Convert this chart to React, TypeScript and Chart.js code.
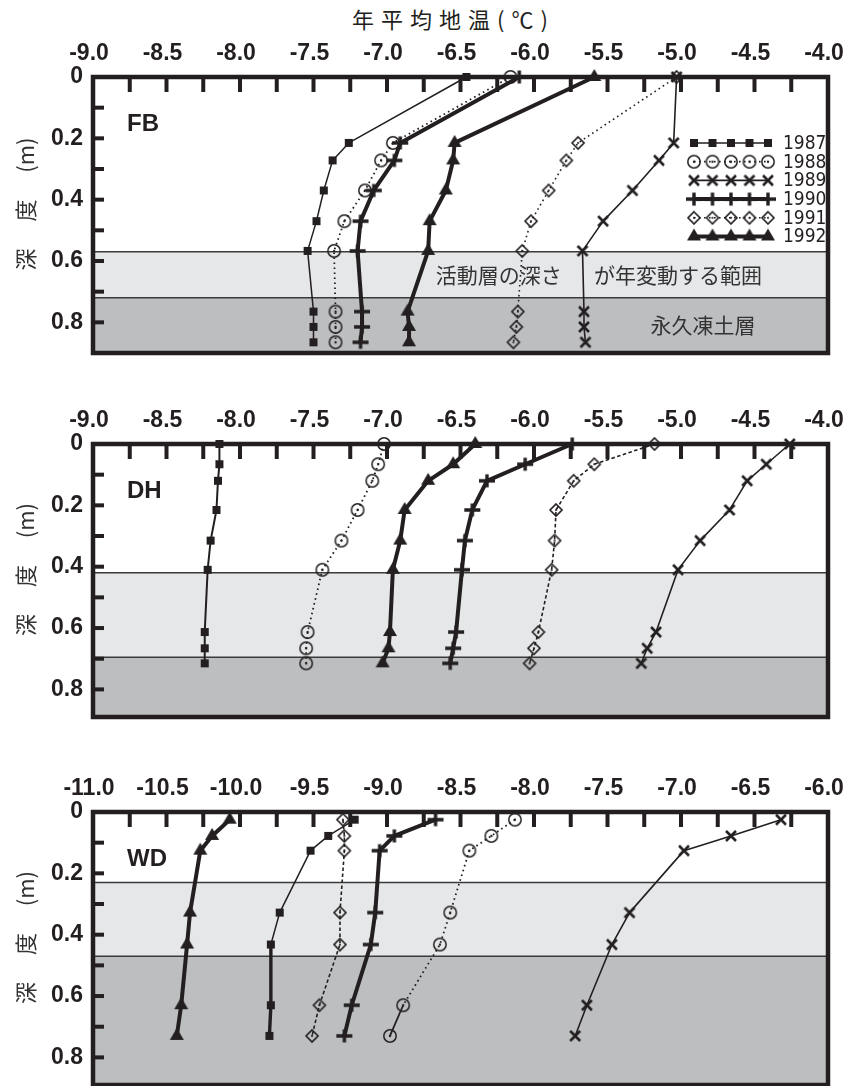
import React, { useEffect, useRef } from 'react';
import { Chart, registerables } from 'chart.js';

Chart.register(...registerables);

const INK = '#231f20';
const LIGHT_LAYER = '#e6e7e8';
const DARK_LAYER = '#bcbec0';
const LAYER_EDGE = '#3b3b3b';

const years = ['1987', '1988', '1989', '1990', '1991', '1992'];

// ---- FB: depth (m) and annual mean ground temperature (°C) ----
const fbDepth = [0, 0.215, 0.272, 0.37, 0.47, 0.567, 0.765, 0.815, 0.865];
const fb1987 = [-6.46, -7.26, -7.37, -7.43, -7.48, -7.54, -7.5, -7.5, -7.5];
const fb1988 = [-6.16, -6.96, -7.04, -7.15, -7.29, -7.36, -7.35, -7.35, -7.35];
const fb1989 = [-5.03, -5.05, -5.15, -5.33, -5.53, -5.67, -5.66, -5.66, -5.65];
const fb1990 = [-6.1, -6.91, -6.95, -7.09, -7.18, -7.2, -7.17, -7.17, -7.18];
const fb1991 = [-5.03, -5.7, -5.78, -5.9, -6.02, -6.08, -6.11, -6.12, -6.14];
const fb1992 = [-5.59, -6.54, -6.55, -6.6, -6.71, -6.72, -6.86, -6.85, -6.85];
const fbLayerTops = [0.57, 0.72]; // top of active-layer range, top of permafrost

// ---- DH ----
const dhDepth = [0, 0.066, 0.12, 0.215, 0.315, 0.41, 0.613, 0.666, 0.715];
const dh1987 = [-8.14, -8.14, -8.15, -8.16, -8.2, -8.22, -8.24, -8.24, -8.24];
const dh1988 = [-7.02, -7.06, -7.1, -7.2, -7.31, -7.44, -7.54, -7.55, -7.55];
const dh1989 = [-4.26, -4.42, -4.55, -4.67, -4.87, -5.02, -5.17, -5.23, -5.27];
const dh1990 = [-5.74, -6.06, -6.32, -6.42, -6.47, -6.49, -6.53, -6.55, -6.57];
const dh1991 = [-5.18, -5.59, -5.73, -5.85, -5.86, -5.88, -5.97, -6.0, -6.03];
const dh1992 = [-6.4, -6.55, -6.72, -6.88, -6.91, -6.96, -6.98, -6.99, -7.03];
const dhLayerTops = [0.42, 0.695];

// ---- WD ----
const wdDepth = [0.025, 0.078, 0.126, 0.328, 0.432, 0.63, 0.73];
const wd1987 = [-9.22, -9.4, -9.52, -9.73, -9.79, -9.79, -9.8];
const wd1988 = [-8.13, -8.29, -8.44, -8.57, -8.64, -8.89, -8.98];
const wd1989 = [-6.32, -6.66, -6.98, -7.35, -7.47, -7.64, -7.72];
const wd1990 = [-8.67, -8.95, -9.05, -9.08, -9.11, -9.24, -9.29];
const wd1991 = [-9.3, -9.29, -9.29, -9.32, -9.32, -9.46, -9.51];
const wd1992 = [-10.07, -10.19, -10.27, -10.34, -10.36, -10.4, -10.43];
const wdLayerTops = [0.23, 0.47];

// ---- axis ticks ----
const tempTicksFB = [-9.0, -8.5, -8.0, -7.5, -7.0, -6.5, -6.0, -5.5, -5.0, -4.5, -4.0];
const tempTicksWD = [-11.0, -10.5, -10.0, -9.5, -9.0, -8.5, -8.0, -7.5, -7.0, -6.5, -6.0];
const depthTicks = [0, 0.2, 0.4, 0.6, 0.8];

const fbNotes = [
  { text: '活動層の深さ', x: -6.24, y: 0.645 },
  { text: 'が年変動する範囲', x: -5.02, y: 0.645 },
  { text: '永久凍土層', x: -4.85, y: 0.81 },
];

type MarkerKind = 'square' | 'circleDot' | 'cross' | 'plus' | 'diamondDot' | 'triangle';

const seriesStyles: { marker: MarkerKind; width: number; dash: number[] }[] = [
  { marker: 'square', width: 1.5, dash: [] },
  { marker: 'circleDot', width: 1.8, dash: [1.6, 3.4] },
  { marker: 'cross', width: 1.6, dash: [] },
  { marker: 'plus', width: 4, dash: [] },
  { marker: 'diamondDot', width: 1.6, dash: [1.6, 3.4] },
  { marker: 'triangle', width: 4, dash: [] },
];

function makeMarker(kind: MarkerKind): HTMLCanvasElement {
  const c = document.createElement('canvas');
  const s = 18;
  c.width = s;
  c.height = s;
  const g = c.getContext('2d')!;
  const m = s / 2;
  g.strokeStyle = INK;
  g.fillStyle = INK;
  g.lineCap = 'butt';
  switch (kind) {
    case 'square':
      g.fillRect(m - 4, m - 4, 8, 8);
      break;
    case 'circleDot':
      g.lineWidth = 1.5;
      g.beginPath();
      g.arc(m, m, 6.2, 0, Math.PI * 2);
      g.stroke();
      g.beginPath();
      g.arc(m, m, 1.2, 0, Math.PI * 2);
      g.fill();
      break;
    case 'cross':
      g.lineWidth = 2.6;
      g.beginPath();
      g.moveTo(m - 5, m - 5);
      g.lineTo(m + 5, m + 5);
      g.moveTo(m + 5, m - 5);
      g.lineTo(m - 5, m + 5);
      g.stroke();
      break;
    case 'plus':
      g.lineWidth = 3.4;
      g.beginPath();
      g.moveTo(m - 8, m);
      g.lineTo(m + 8, m);
      g.moveTo(m, m - 6.5);
      g.lineTo(m, m + 6.5);
      g.stroke();
      break;
    case 'diamondDot':
      g.lineWidth = 1.6;
      g.beginPath();
      g.moveTo(m, m - 6);
      g.lineTo(m + 6, m);
      g.lineTo(m, m + 6);
      g.lineTo(m - 6, m);
      g.closePath();
      g.stroke();
      g.beginPath();
      g.arc(m, m, 1.1, 0, Math.PI * 2);
      g.fill();
      break;
    case 'triangle':
      g.beginPath();
      g.moveTo(m, m - 8);
      g.lineTo(m + 7, m + 4);
      g.lineTo(m - 7, m + 4);
      g.closePath();
      g.fill();
      break;
  }
  return c;
}

type Note = { text: string; x: number; y: number };

type PanelDef = {
  name: string;
  depth: number[];
  series: number[][];
  xMin: number;
  xMax: number;
  xTicks: number[];
  yMax: number;
  layerTops: number[];
  notes: Note[];
  legend: boolean;
  dash1991: number[];
  canvasTop: number;
  canvasHeight: number;
  padBottom: number;
  segments?: Record<number, any>;
};

const panels: PanelDef[] = [
  {
    name: 'FB',
    depth: fbDepth,
    series: [fb1987, fb1988, fb1989, fb1990, fb1991, fb1992],
    xMin: -9,
    xMax: -4,
    xTicks: tempTicksFB,
    yMax: 0.9,
    layerTops: fbLayerTops,
    notes: fbNotes,
    legend: true,
    dash1991: [1.6, 3.4],
    canvasTop: 0,
    canvasHeight: 365,
    padBottom: 12,
  },
  {
    name: 'DH',
    depth: dhDepth,
    series: [dh1987, dh1988, dh1989, dh1990, dh1991, dh1992],
    xMin: -9,
    xMax: -4,
    xTicks: tempTicksFB,
    yMax: 0.89,
    layerTops: dhLayerTops,
    notes: [],
    legend: false,
    dash1991: [3.5, 2.5],
    canvasTop: 367,
    canvasHeight: 365,
    padBottom: 15,
    segments: { 0: { borderWidth: 2 } },
  },
  {
    name: 'WD',
    depth: wdDepth,
    series: [wd1987, wd1988, wd1989, wd1990, wd1991, wd1992],
    xMin: -11,
    xMax: -6,
    xTicks: tempTicksWD,
    yMax: 0.89,
    layerTops: wdLayerTops,
    notes: [],
    legend: false,
    dash1991: [3.5, 2.5],
    canvasTop: 735,
    canvasHeight: 370,
    padBottom: 20,
    segments: {
      // 1987: heavier line below 0.43 m
      0: { borderWidth: (ctx: any) => (ctx.p0DataIndex >= 4 ? 3.4 : undefined) },
      // 1988: deepest segment solid
      1: { borderDash: (ctx: any) => (ctx.p0DataIndex >= 5 ? [] : undefined) },
    },
  },
];

function decorPlugin(p: PanelDef, markers: HTMLCanvasElement[]) {
  return {
    id: 'decor' + p.name,
    beforeDatasetsDraw(chart: any) {
      const { ctx, chartArea: a } = chart;
      const xs = chart.scales.x;
      const ys = chart.scales.y;
      const y1 = ys.getPixelForValue(p.layerTops[0]);
      const y2 = ys.getPixelForValue(p.layerTops[1]);
      ctx.save();
      ctx.fillStyle = LIGHT_LAYER;
      ctx.fillRect(a.left, y1, a.width, y2 - y1);
      ctx.fillStyle = DARK_LAYER;
      ctx.fillRect(a.left, y2, a.width, a.bottom - y2);
      ctx.strokeStyle = LAYER_EDGE;
      ctx.lineWidth = 1.5;
      [y1, y2].forEach((py) => {
        ctx.beginPath();
        ctx.moveTo(a.left, py);
        ctx.lineTo(a.right, py);
        ctx.stroke();
      });
      ctx.font = "21px 'Noto Sans CJK JP', sans-serif";
      ctx.fillStyle = '#333333';
      ctx.textAlign = 'center';
      ctx.textBaseline = 'middle';
      p.notes.forEach((n) => ctx.fillText(n.text, xs.getPixelForValue(n.x), ys.getPixelForValue(n.y)));
      ctx.restore();
    },
    afterDatasetsDraw(chart: any) {
      const { ctx, chartArea: a } = chart;
      const xs = chart.scales.x;
      const ys = chart.scales.y;
      ctx.save();
      ctx.strokeStyle = INK;
      ctx.lineCap = 'butt';
      // inner tick marks: every 0.25 °C along the top, every 0.1 m on the left
      ctx.lineWidth = 4;
      for (let i = 1; i < 20; i++) {
        const px = xs.getPixelForValue(p.xMin + i * 0.25);
        ctx.beginPath();
        ctx.moveTo(px, a.top);
        ctx.lineTo(px, a.top + 15);
        ctx.stroke();
      }
      for (let i = 1; i <= 8; i++) {
        const py = ys.getPixelForValue(i * 0.1);
        ctx.beginPath();
        ctx.moveTo(a.left, py);
        ctx.lineTo(a.left + 11, py);
        ctx.stroke();
      }
      // frame
      ctx.lineWidth = 4.5;
      ctx.strokeRect(a.left, a.top, a.width, a.height);
      // site name
      ctx.fillStyle = INK;
      ctx.font = "bold 24px 'Liberation Sans', Arial, sans-serif";
      ctx.textAlign = 'left';
      ctx.textBaseline = 'middle';
      ctx.fillText(p.name, a.left + 34, a.top + 47);
      // legend: line sample with five markers per year
      if (p.legend) {
        chart.data.datasets.forEach((ds: any, i: number) => {
          const cy = a.top + 66 + i * 18.7;
          const x1 = a.right - 134;
          const x2 = a.right - 60;
          ctx.save();
          ctx.lineWidth = ds.borderWidth;
          ctx.setLineDash(ds.borderDash || []);
          ctx.beginPath();
          ctx.moveTo(x1, cy);
          ctx.lineTo(x2, cy);
          ctx.stroke();
          ctx.restore();
          const mk = markers[i];
          for (let k = 0; k < 5; k++) {
            const mx = x1 + (k * (x2 - x1)) / 4;
            ctx.drawImage(mk, mx - mk.width / 2, cy - mk.height / 2);
          }
          ctx.font = "19px 'Liberation Sans Narrow', 'DejaVu Sans Condensed', sans-serif";
          ctx.textAlign = 'left';
          ctx.fillText(ds.label, a.right - 45, cy + 1);
        });
      }
      ctx.restore();
    },
  };
}

const tickFont = { family: "'Liberation Sans', Arial, sans-serif", size: 23, weight: 'bold' as const };

function Panel({ p }: { p: PanelDef }) {
  const ref = useRef<HTMLCanvasElement>(null);
  useEffect(() => {
    const markers = seriesStyles.map((s) => makeMarker(s.marker));
    const datasets = p.series.map((temps, i) => {
      const st = seriesStyles[i];
      const ds: any = {
        label: years[i],
        data: p.depth.map((d, k) => ({ x: temps[k], y: d })),
        borderColor: INK,
        backgroundColor: INK,
        borderWidth: st.width,
        borderDash: i === 4 ? p.dash1991 : st.dash,
        borderCapStyle: 'butt',
        borderJoinStyle: 'round',
        tension: 0,
        pointStyle: markers[i],
        pointRadius: 6,
        pointHoverRadius: 6,
        clip: false,
      };
      if (p.segments && p.segments[i]) ds.segment = p.segments[i];
      return ds;
    });
    const chart = new Chart(ref.current!, {
      type: 'line',
      data: { datasets },
      options: {
        animation: false,
        responsive: false,
        events: [],
        layout: { padding: { left: 0, right: 20, top: 0, bottom: p.padBottom } },
        plugins: { legend: { display: false }, tooltip: { enabled: false } },
        scales: {
          x: {
            type: 'linear',
            position: 'top',
            min: p.xMin,
            max: p.xMax,
            grid: { display: false, drawTicks: false },
            border: { display: false },
            afterBuildTicks: (s: any) => {
              s.ticks = p.xTicks.map((v) => ({ value: v }));
            },
            afterFit: (s: any) => {
              s.height = 77;
              s.paddingLeft = 0;
              s.paddingRight = 0;
            },
            ticks: {
              autoSkip: false,
              maxRotation: 0,
              padding: 10,
              labelOffset: -4,
              color: INK,
              font: tickFont,
              callback: (v: any) => Number(v).toFixed(1),
            },
          },
          y: {
            type: 'linear',
            position: 'left',
            reverse: true,
            min: 0,
            max: p.yMax,
            grid: { display: false, drawTicks: false },
            border: { display: false },
            afterBuildTicks: (s: any) => {
              s.ticks = depthTicks.map((v) => ({ value: v }));
            },
            afterFit: (s: any) => {
              s.width = 93;
              s.paddingTop = 0;
              s.paddingBottom = 0;
            },
            ticks: {
              padding: 10,
              color: INK,
              font: tickFont,
              callback: (v: any) => (Number(v) === 0 ? '0' : Number(v).toFixed(1)),
            },
            title: {
              display: true,
              text: '\u3000深\u3000 度\u3000 (m)',
              color: '#333333',
              font: { family: "'Noto Sans CJK JP', sans-serif", size: 22, weight: 'normal' },
              padding: { top: 12, bottom: 0 },
            },
          },
        },
      },
      plugins: [decorPlugin(p, markers)],
    } as any);
    return () => chart.destroy();
  }, [p]);
  return (
    <canvas
      ref={ref}
      width={848}
      height={p.canvasHeight}
      style={{ position: 'absolute', left: 0, top: p.canvasTop, width: 848, height: p.canvasHeight, display: 'block' }}
    />
  );
}

export default function App() {
  return (
    <div style={{ position: 'absolute', left: 0, top: 0, width: 848, height: 1086, background: '#fff', overflow: 'hidden' }}>
      <div
        style={{
          position: 'absolute',
          left: 352,
          top: 5,
          fontFamily: "'Noto Sans CJK JP', sans-serif",
          fontSize: 22,
          letterSpacing: 7,
          lineHeight: '26px',
          color: INK,
          whiteSpace: 'nowrap',
        }}
      >
        年平均地温(℃)
      </div>
      {panels.map((p) => (
        <Panel key={p.name} p={p} />
      ))}
    </div>
  );
}
